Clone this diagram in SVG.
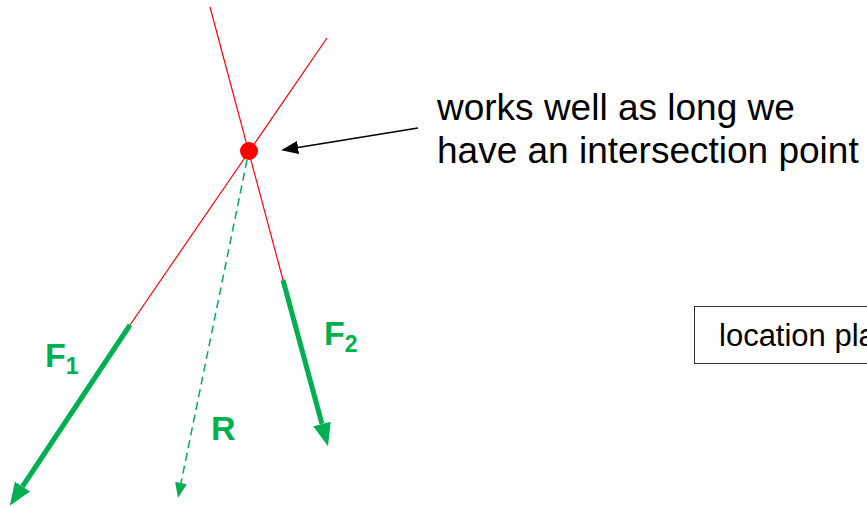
<svg xmlns="http://www.w3.org/2000/svg" width="867" height="508" viewBox="0 0 867 508">
<defs>
<style>
.red{stroke:#ff0000;stroke-width:1.2;fill:none}
.force{stroke:#00b050;stroke-width:5;fill:none}
.res{stroke:#00b050;stroke-width:1.5;stroke-dasharray:8,5;fill:none}
.lbl{font-family:"Liberation Sans",Arial,sans-serif;font-weight:bold;fill:#00b050}
.txt{font-family:"Liberation Sans",Arial,sans-serif;fill:#000}
</style>
<marker id="ahG" markerUnits="userSpaceOnUse" markerWidth="24" markerHeight="20" viewBox="0 -10 24 20" refX="0" refY="0" orient="auto">
<path d="M0,-9 L23,0 L0,9 Z" fill="#00b050"/>
</marker>
<marker id="ahS" markerUnits="userSpaceOnUse" markerWidth="16" markerHeight="14" viewBox="0 -7 16 14" refX="0" refY="0" orient="auto">
<path d="M0,-6 L15,0 L0,6 Z" fill="#00b050"/>
</marker>
<marker id="ahK" markerUnits="userSpaceOnUse" markerWidth="18" markerHeight="14" viewBox="0 -7 18 14" refX="0" refY="0" orient="auto">
<path d="M0,-6.5 L17,0 L0,6.5 Z" fill="#000"/>
</marker>
</defs>
<g id="connectors">
<line class="red" x1="210" y1="7" x2="283" y2="280"/>
<line class="red" x1="327" y1="38" x2="130" y2="325"/>
<line class="force" x1="130" y1="325" x2="22.5" y2="486.5" marker-end="url(#ahG)"/>
<line class="force" x1="283" y1="280" x2="322" y2="424" marker-end="url(#ahG)"/>
<line class="res" x1="247" y1="160" x2="181" y2="483" marker-end="url(#ahS)"/>
<line stroke="#000" stroke-width="1.5" x1="418" y1="128" x2="298" y2="147.5" marker-end="url(#ahK)"/>
</g>
<g id="intersection">
<circle cx="249" cy="151" r="9" fill="#ff0000"/>
</g>
<g id="label-F1">
<text class="lbl" x="45" y="367" font-size="34">F<tspan font-size="23" dy="7">1</tspan></text>
</g>
<g id="label-F2">
<text class="lbl" x="324" y="345" font-size="34">F<tspan font-size="23" dy="7">2</tspan></text>
</g>
<g id="label-R">
<text class="lbl" x="211" y="440" font-size="34">R</text>
</g>
<g id="note">
<text class="txt" x="437" y="120" font-size="37">works well as long we</text>
<text class="txt" x="437" y="163" font-size="37">have an intersection point</text>
</g>
<g id="location-box">
<rect x="694.5" y="306.5" width="190" height="57" fill="#fff" stroke="#333" stroke-width="1"/>
<text class="txt" x="719" y="346" font-size="31">location pla</text>
</g>
</svg>
